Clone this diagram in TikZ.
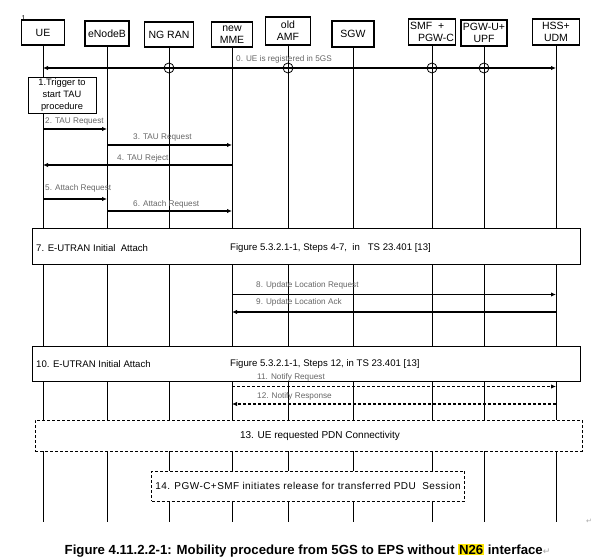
\documentclass[tikz,border=0pt]{standalone}
\usepackage{fontspec}
\setmainfont{Liberation Sans}
\newfontfamily\markfont{DejaVu Sans}
\newfontfamily\widefont[LetterSpace=4.5]{Liberation Sans}
\usetikzlibrary{arrows.meta}

\begin{document}
\begin{tikzpicture}[x=1pt,y=-1pt,
  entity/.style={draw, line width=1.1pt, align=center, inner sep=0pt,
    font=\fontsize{10.5}{12}\selectfont},
  lifeline/.style={line width=0.9pt},
  msg/.style={line width=1.1pt, -{Latex[length=5pt,width=4.5pt]}},
  msglabel/.style={anchor=west, inner sep=0pt, text=black!60,
    font=\fontsize{8.2}{9}\selectfont},
  stepbox/.style={draw, line width=0.9pt, fill=white, inner sep=0pt},
  optbox/.style={draw, line width=0.8pt, dash pattern=on 3pt off 2pt,
    fill=white, inner sep=0pt},
  steptext/.style={anchor=west, inner sep=0pt, font=\fontsize{9.6}{11}\selectfont}]

  \useasboundingbox (0,0) rectangle (592,559);

  %% Mobility from 5GS to EPS without N26

  % Page mark
  \node[inner sep=0pt, font=\fontsize{7}{8}\selectfont] (pagemark) at (23.5,18) {1};

  % Network entities
  \node[entity, minimum width=43pt, minimum height=25pt] (ue) at (43,32.5) {UE};
  \node[entity, minimum width=44pt, minimum height=25pt] (enb) at (107,33.5) {eNodeB};
  \node[entity, minimum width=49pt, minimum height=25pt] (ngran) at (169,34.5) {NG RAN};
  \node[entity, minimum width=41pt, minimum height=25pt] (mme) at (232,34.5) {new\\MME};
  \node[entity, minimum width=45pt, minimum height=28pt] (amf) at (288,31) {old\\AMF};
  \node[entity, minimum width=42pt, minimum height=26pt] (sgw) at (353,34) {SGW};
  \node[entity, minimum width=47pt, minimum height=26pt, align=left] (smf) at (432,32)
    {SMF\ \ +\\\hspace{8pt}PGW-C};
  \node[entity, minimum width=46pt, minimum height=26pt] (upf) at (484,33) {PGW-U+\\UPF};
  \node[entity, minimum width=47pt, minimum height=26pt] (hss) at (556,32) {HSS+\\UDM};

  % Lifelines
  \coordinate (bottom) at (0,522);
  \draw[lifeline] (ue.south) -- (ue |- bottom);
  \draw[lifeline] (enb.south) -- (enb |- bottom);
  \draw[lifeline] (ngran.south) -- (ngran |- bottom);
  \draw[lifeline] (mme.south) -- (mme |- bottom);
  \draw[lifeline] (amf.south) -- (amf |- bottom);
  \draw[lifeline] (sgw.south) -- (sgw |- bottom);
  \draw[lifeline] (smf.south) -- (smf |- bottom);
  \draw[lifeline] (upf.south) -- (upf |- bottom);
  \draw[lifeline] (hss.south) -- (hss |- bottom);

  % 0. Registration in 5GS
  \coordinate (y0) at (0,68);
  \draw[msg, {Latex[length=5pt,width=4.5pt]}-{Latex[length=5pt,width=4.5pt]}]
    (ue |- y0) -- (hss |- y0);
  \draw[line width=0.8pt] (ngran |- y0) circle (5);
  \draw[line width=0.8pt] (amf |- y0) circle (5);
  \draw[line width=0.8pt] (smf |- y0) circle (5);
  \draw[line width=0.8pt] (upf |- y0) circle (5);
  \node[msglabel] (l0) at (236,59) {0. UE is registered in 5GS};

  % 1. Trigger
  \node[stepbox, minimum width=68pt, minimum height=36pt, align=center,
    font=\fontsize{9.3}{12}\selectfont] (trigger) at (62,95) {1.Trigger to\\start TAU\\procedure};

  % 2.-4. TAU
  \coordinate (y2) at (0,129);
  \draw[msg] (ue |- y2) -- (enb |- y2);
  \node[msglabel] (l2) at (45,121) {2. TAU Request};

  \coordinate (y3) at (0,145);
  \draw[msg] (enb |- y3) -- (mme |- y3);
  \node[msglabel] (l3) at (133,137) {3. TAU Request};

  \coordinate (y4) at (0,165);
  \draw[msg] (mme |- y4) -- (ue |- y4);
  \node[msglabel] (l4) at (117,158) {4. TAU\ Reject};

  % 5.-6. Attach
  \coordinate (y5) at (0,199);
  \draw[msg] (ue |- y5) -- (enb |- y5);
  \node[msglabel] (l5) at (45,188) {5. Attach Request};

  \coordinate (y6) at (0,211);
  \draw[msg] (enb |- y6) -- (mme |- y6);
  \node[msglabel] (l6) at (133,204) {6. Attach Request};

  % 7. Initial attach
  \node[stepbox, minimum width=548pt, minimum height=36pt] (attach1) at (306.5,246) {};
  \node[steptext] (t7a) at (36,248) {7. E-UTRAN Initial\ \ Attach};
  \node[steptext] (t7b) at (230,248) {Figure 5.3.2.1-1, Steps 4-7,\ \ in\ \ \ TS 23.401 [13]};

  % 8.-9. Update location
  \coordinate (y8) at (0,294.5);
  \draw[msg] (mme |- y8) -- (hss |- y8);
  \node[msglabel] (l8) at (256,285) {8. Update Location Request};

  \coordinate (y9) at (0,312);
  \draw[msg] (hss |- y9) -- (mme |- y9);
  \node[msglabel] (l9) at (256,302) {9. Update Location Ack};

  % 10. Initial attach
  \node[stepbox, minimum width=548pt, minimum height=35pt] (attach2) at (306.5,363.5) {};
  \node[steptext] (t10a) at (36,364) {10. E-UTRAN Initial Attach};
  \node[steptext] (t10b) at (230,364) {Figure 5.3.2.1-1, Steps 12, in TS 23.401 [13]};

  % 11.-12. Notify
  \coordinate (y11) at (0,386.5);
  \draw[msg, dash pattern=on 3pt off 2pt] (mme |- y11) -- (hss |- y11);
  \node[msglabel] (l11) at (257,377) {11. Notify Request};

  \coordinate (y12) at (0,404);
  \draw[msg, dash pattern=on 3pt off 2pt] (hss |- y12) -- (mme |- y12);
  \node[msglabel] (l12) at (257,396) {12. Notify Response};

  % 13. PDN connectivity
  \node[optbox, minimum width=547pt, minimum height=31pt] (pdn) at (308.5,435.5) {};
  \node[inner sep=0pt, font=\fontsize{10}{11}\selectfont] (t13) at (320,436)
    {13. UE\ requested PDN Connectivity};

  % 14. Release
  \node[optbox, minimum width=313pt, minimum height=30pt, font=\widefont\fontsize{10}{11}\selectfont]
    (release) at (308,486) {14. PGW-C+SMF initiates release for transferred PDU\ \ Session};

  % Return marks
  \node[inner sep=0pt, text=black!35, font=\markfont\fontsize{7}{8}\selectfont] (ret) at (589,521) {↵};

  % Caption
  \node[inner sep=0pt, anchor=base west, font=\bfseries\fontsize{13.2}{15}\selectfont] (caption) at (64.5,554)
    {Figure 4.11.2.2-1: Mobility procedure from 5GS to EPS without
     {\setlength{\fboxsep}{0.8pt}\colorbox{yellow!90!orange}{N26}} interface%
     {\mdseries\color{black!35}\markfont\fontsize{9}{10}\selectfont↵}};

\end{tikzpicture}
\end{document}
